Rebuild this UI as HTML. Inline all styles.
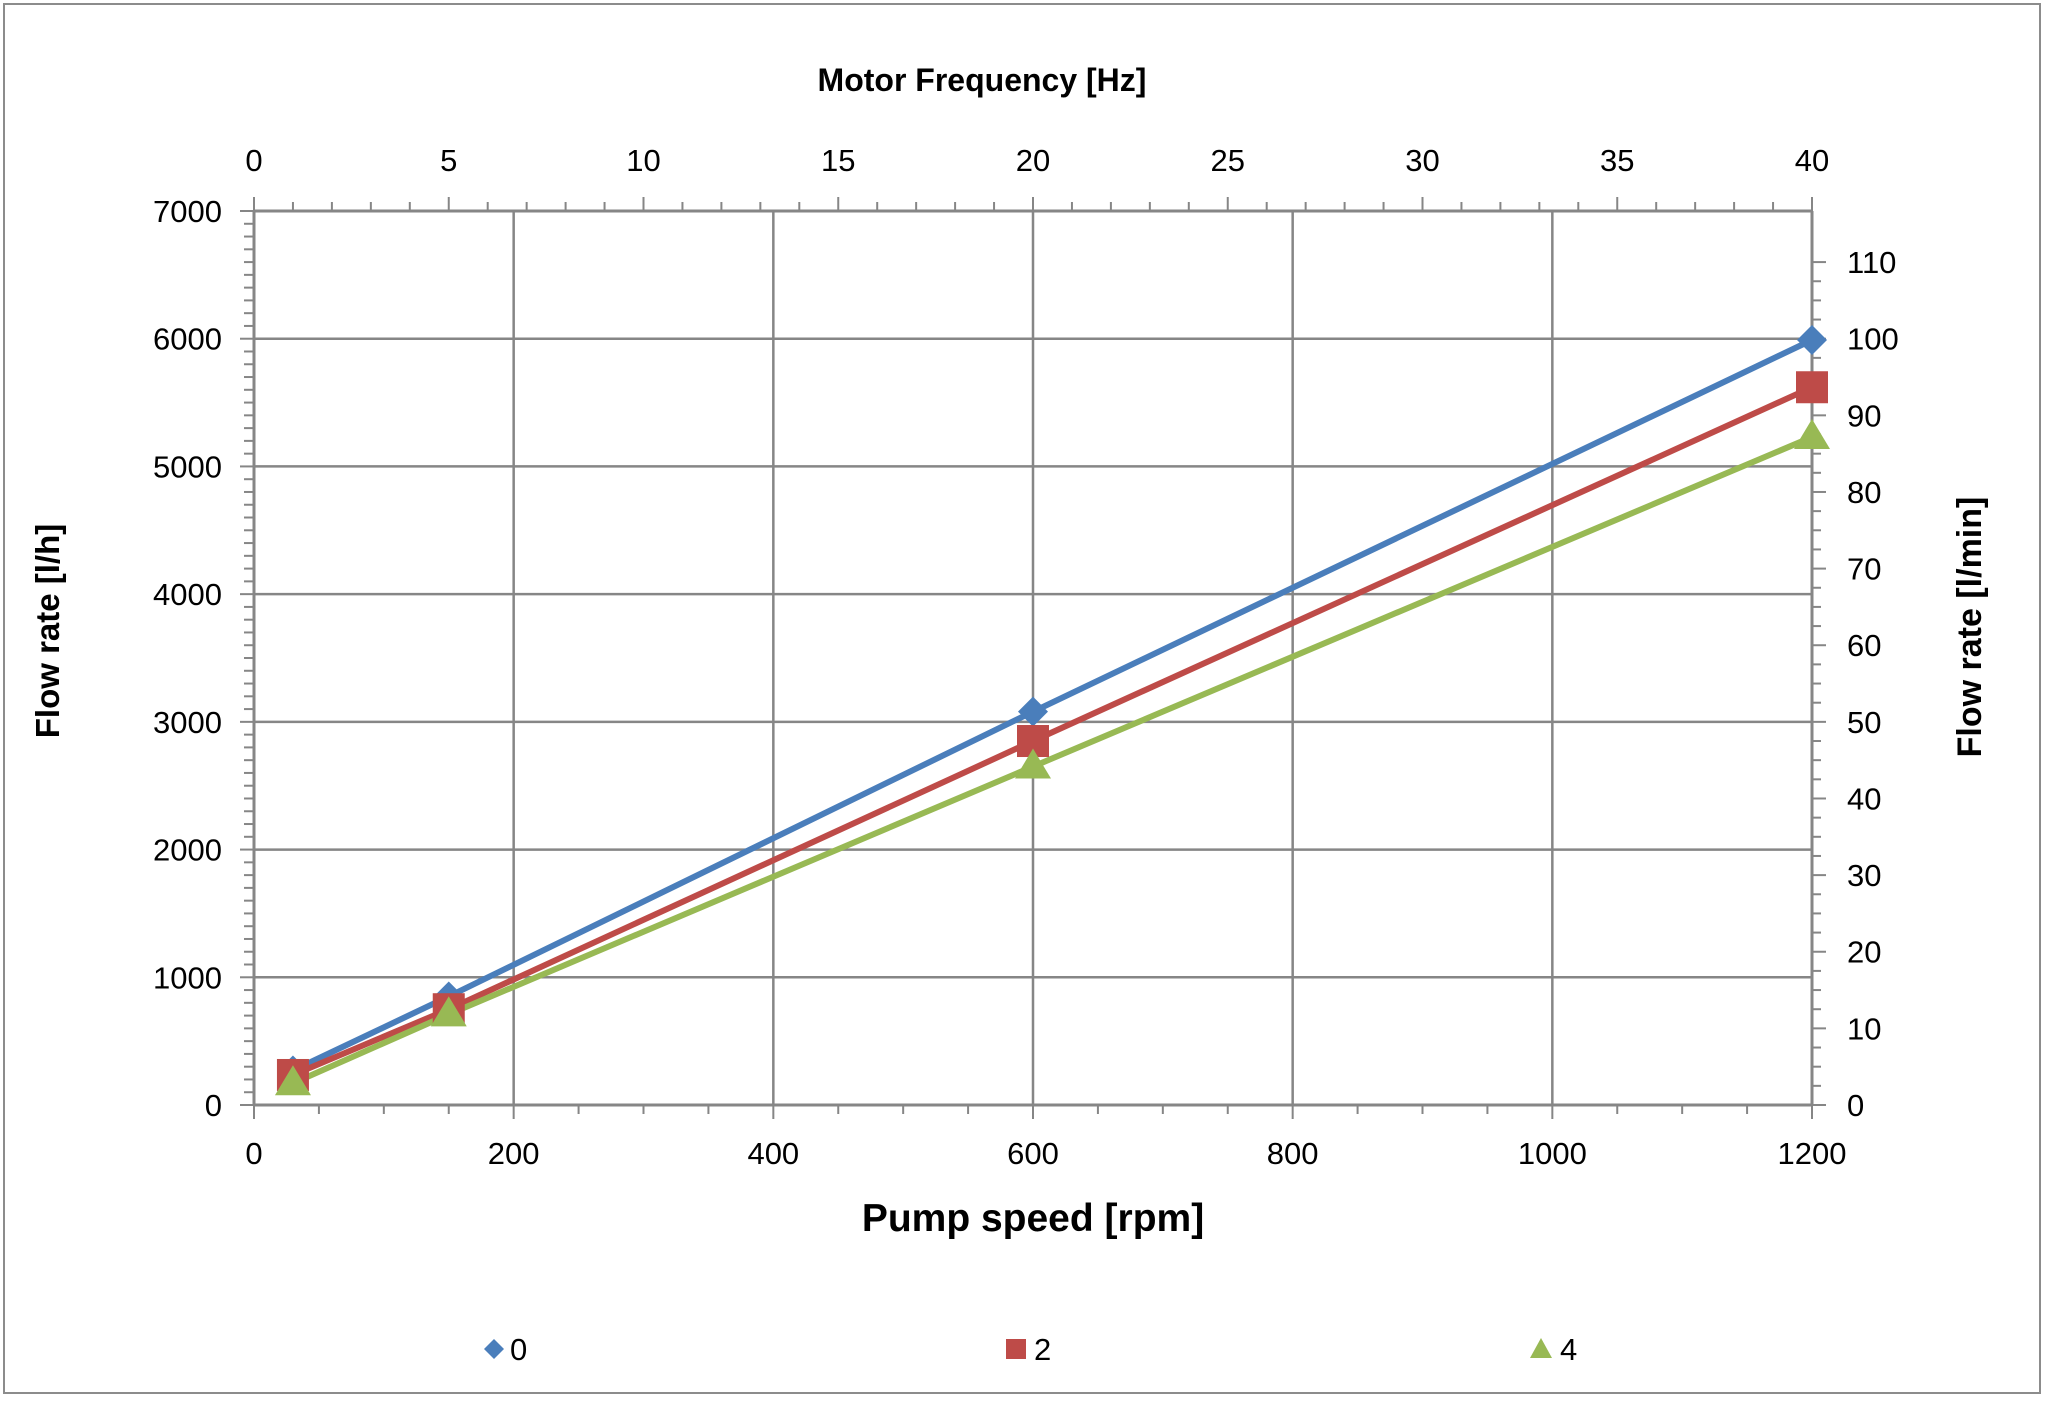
<!DOCTYPE html>
<html><head><meta charset="utf-8"><style>
html,body{margin:0;padding:0;background:#fff;}
svg{display:block;font-family:"Liberation Sans",sans-serif;}
</style></head><body>
<svg id="s" width="2048" height="1402" xmlns="http://www.w3.org/2000/svg">
<rect x="0" y="0" width="2048" height="1402" fill="#fff"/>
<rect x="4" y="4" width="2036" height="1389" fill="none" stroke="#8c8c8c" stroke-width="2"/>
<g id="grid"></g>
<g id="data"></g>
<g font-size="31" fill="#000" id="labels"></g>
<text x="982" y="91" font-size="32" font-weight="bold" text-anchor="middle">Motor Frequency [Hz]</text>
<text x="1033" y="1231" font-size="39" font-weight="bold" text-anchor="middle">Pump speed [rpm]</text>
<text transform="translate(59,631) rotate(-90)" font-size="33" font-weight="bold" text-anchor="middle">Flow rate [l/h]</text>
<text transform="translate(1981,627) rotate(-90)" font-size="34" font-weight="bold" text-anchor="middle">Flow rate [l/min]</text>
<g font-size="31">
<path d="M494,1339 l10,10 l-10,10 l-10,-10z" fill="#4a7ebb"/><text x="510" y="1360">0</text>
<rect x="1006" y="1339" width="20" height="20" fill="#be4b48"/><text x="1034" y="1360">2</text>
<path d="M1541,1338 l11,20 h-22z" fill="#98b954"/><text x="1560" y="1360">4</text>
</g>
</svg>
<script>
const L=254,R=1812,T=211,B=1105;
const X=v=>L+v*(R-L)/1200, Y=v=>B-v*(B-T)/7000;
let g='',lab='';
const ln=(x1,y1,x2,y2,w)=>`<line x1="${x1}" y1="${y1}" x2="${x2}" y2="${y2}" stroke="#868686" stroke-width="${w||2.5}"/>`;
for(let v=200;v<=1200;v+=200) g+=ln(X(v),T,X(v),B);
for(let v=1000;v<=7000;v+=1000) g+=ln(L,Y(v),R,Y(v));
g+=ln(L,T,L,B,3)+ln(L,B,R,B,3)+ln(L,T,R,T,3)+ln(R,T,R,B,3);
for(let v=0;v<=7000;v+=100){const m=v%1000==0;g+=ln(L-(m?14:10),Y(v),L,Y(v),2);}
for(let v=0;v<=1200;v+=50){const m=v%200==0;g+=ln(X(v),B,X(v),B+(m?14:9),2);}
for(let h=0;h<=40;h++){const x=L+h*(R-L)/40;g+=ln(x,T-(h%5==0?14:9),x,T,2);}
for(let m=0;m<=110;m+=2.5){const y=Y(m*60);g+=ln(R,y,R+(m%10==0?14:9),y,2);}
document.getElementById('grid').innerHTML=g;
for(let v=0;v<=7000;v+=1000) lab+=`<text x="222" y="${Y(v)+11}" text-anchor="end">${v}</text>`;
for(let v=0;v<=1200;v+=200) lab+=`<text x="${X(v)}" y="${1164}" text-anchor="middle">${v}</text>`;
for(let h=0;h<=40;h+=5) lab+=`<text x="${L+h*(R-L)/40}" y="171" text-anchor="middle">${h}</text>`;
for(let m=0;m<=110;m+=10) lab+=`<text x="1847" y="${Y(m*60)+11}">${m}</text>`;
document.getElementById('labels').innerHTML=lab;
const S=[["#4a7ebb",[[30,270],[150,850],[600,3080],[1200,5990]],'d'],
["#be4b48",[[30,235],[150,750],[600,2850],[1200,5620]],'s'],
["#98b954",[[30,170],[150,710],[600,2650],[1200,5230]],'t']];
let d='';
for(const [c,p,t] of S){
 d+=`<polyline fill="none" stroke="${c}" stroke-width="6" points="${p.map(q=>X(q[0])+','+Y(q[1])).join(' ')}"/>`;
}
for(const [c,p,t] of S){
 for(const q of p){const x=X(q[0]),y=Y(q[1]);
  if(t=='d')d+=`<path d="M${x},${y-15} l15,15 l-15,15 l-15,-15z" fill="${c}"/>`;
  else if(t=='s')d+=`<rect x="${x-16}" y="${y-16}" width="32" height="32" fill="${c}"/>`;
  else d+=`<path d="M${x},${y-18} l18,30 h-36z" fill="${c}"/>`;}
}
document.getElementById('data').innerHTML=d;
</script>
</body></html>
